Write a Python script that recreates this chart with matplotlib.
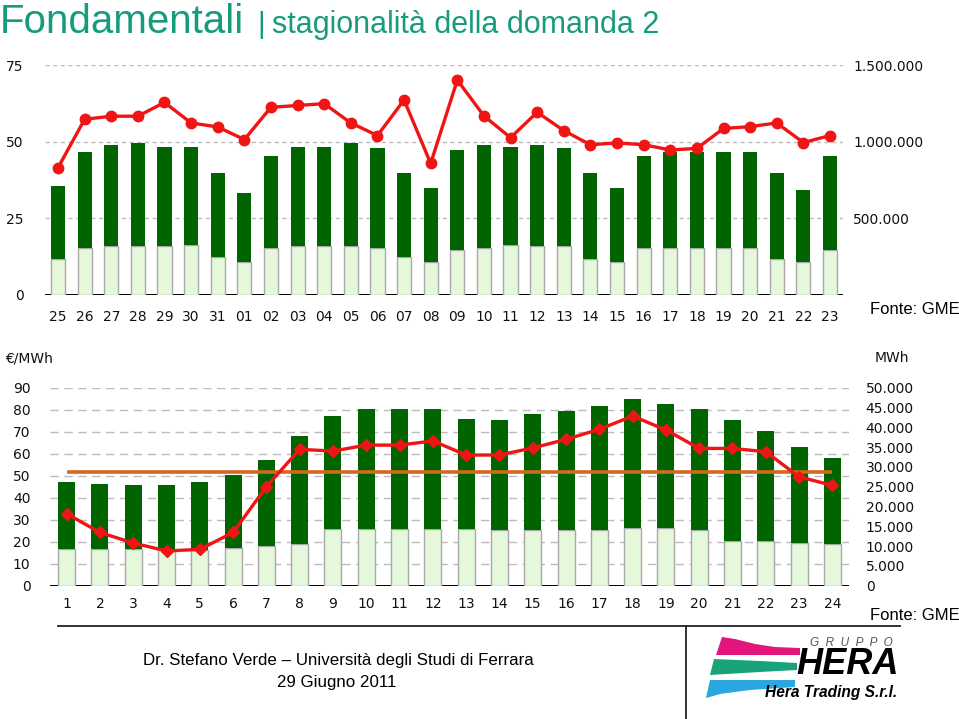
import matplotlib.pyplot as plt
from matplotlib.patches import Polygon
from matplotlib.ticker import FuncFormatter

# --- data: top chart (daily volume and price) ---
top_days = ['25', '26', '27', '28', '29', '30', '31', '01', '02', '03', '04', '05', '06', '07', '08',
            '09', '10', '11', '12', '13', '14', '15', '16', '17', '18', '19', '20', '21', '22', '23']
top_vol_total = [714000, 934000, 980000, 994000, 968000, 968000, 794000, 666000, 908000, 968000,
                 968000, 994000, 956000, 794000, 700000, 946000, 980000, 968000, 980000, 956000,
                 794000, 700000, 908000, 932000, 932000, 932000, 932000, 794000, 686000, 908000]
top_vol_light = [234000, 304000, 318000, 318000, 318000, 328000, 248000, 214000, 304000, 318000,
                 318000, 318000, 304000, 248000, 214000, 294000, 304000, 328000, 318000, 318000,
                 234000, 214000, 304000, 304000, 304000, 304000, 304000, 234000, 214000, 294000]
top_price = [41.5, 57.3, 58.3, 58.3, 62.8, 56.1, 54.8, 50.7, 61.2, 61.8, 62.4, 56.1, 52.0, 63.6, 42.9,
             70.1, 58.4, 51.3, 59.6, 53.6, 49.0, 49.6, 49.0, 47.3, 47.8, 54.3, 54.9, 56.1, 49.7, 52.0]

# --- data: bottom chart (hourly volume and price) ---
hours = [str(h) for h in range(1, 25)]
hour_vol_total = [26170, 25780, 25330, 25330, 26170, 27890, 31720, 37720, 42830, 44560, 44560, 44560,
                  42000, 41950, 43280, 44170, 45390, 47060, 45890, 44560, 41950, 39060, 35110, 32220]
hour_vol_light = [9170, 9170, 9170, 9000, 9000, 9610, 10000, 10440, 14220, 14220, 14220, 14220,
                  14220, 14170, 14170, 14170, 14170, 14670, 14670, 14170, 11280, 11280, 10830, 10440]
hour_price = [32.7, 24.2, 19.4, 15.8, 16.5, 24.2, 45.0, 62.0, 61.2, 63.9, 63.9, 65.8,
              59.4, 59.4, 62.6, 66.5, 71.1, 77.1, 70.8, 62.4, 62.4, 60.9, 49.5, 45.6]
avg_price = 51.8

DARK = '#006400'
LIGHT = '#e6f8dc'
RED = '#f01414'
ORANGE = '#d2691e'
TEAL = '#179b7d'

W, H = 959, 719
fig = plt.figure(figsize=(9.59, 7.19), dpi=100)
fig.patch.set_facecolor('white')


def px_axes(l, t, r, b):
    return fig.add_axes([l / W, 1 - b / H, (r - l) / W, (b - t) / H])


def px_text(x, y, s, **kw):
    fig.text(x / W, 1 - y / H, s, **kw)


def dots(v, pos):
    return f'{int(v):,}'.replace(',', '.')


def chart(rect, labels, vol_total, vol_light, price, pmax, pticks, vmax, vticks,
          width, dash, marker, ms, fs, lpad, rpad, xpad, vlabels_zero):
    n = len(labels)
    xs = list(range(n))
    ax_p = px_axes(*rect)
    ax_p.set_xlim(-0.5, n - 0.5)
    ax_p.set_ylim(0, pmax)
    ax_p.set_yticks(pticks)
    ax_p.set_xticks(xs)
    ax_p.set_xticklabels(labels)
    ax_p.yaxis.grid(True, linestyle=dash, color='#bcbcbc', lw=1)
    ax_p.axhline(0, color='black', lw=1.4, zorder=3)
    ax_p.tick_params(length=0, labelsize=fs, colors='#111111')
    ax_p.tick_params(axis='y', pad=lpad)
    ax_p.tick_params(axis='x', pad=xpad)

    ax_v = ax_p.twinx()
    ax_v.set_ylim(0, vmax)
    ax_v.set_yticks(vticks)
    ax_v.yaxis.set_major_formatter(FuncFormatter(
        lambda v, pos: '' if (v == 0 and not vlabels_zero) else dots(v, pos)))
    ax_v.tick_params(length=0, labelsize=fs, colors='#111111', pad=rpad)
    upper = [t - l for t, l in zip(vol_total, vol_light)]
    ax_v.bar(xs, vol_light, width=width, color=LIGHT, edgecolor='#a8a8a8', lw=1)
    ax_v.bar(xs, upper, width=width, bottom=vol_light, color=DARK, lw=0)

    ax_l = ax_p.twinx()
    ax_l.set_ylim(0, pmax)
    ax_l.set_yticks([])
    ax_l.plot(xs, price, color=RED, lw=2.4, marker=marker, ms=ms, mec=RED, mfc=RED)

    for a in (ax_p, ax_v, ax_l):
        for s in a.spines.values():
            s.set_visible(False)
    return ax_l


plt.rcParams['font.family'] = ['DejaVu Sans']

# top chart
chart((44.7, 65, 843.3, 295), top_days, top_vol_total, top_vol_light, top_price,
      75, [0, 25, 50, 75], 1500000, [0, 500000, 1000000, 1500000],
      0.53, (0, (3, 2.5)), 'o', 7.5, 10, 15, 7, 11, False)

# bottom chart
ax_b = chart((50, 387.7, 849, 585.7), hours, hour_vol_total, hour_vol_light, hour_price,
             90, list(range(0, 100, 10)), 50000, list(range(0, 55000, 5000)),
             0.51, (0, (6, 4)), 'D', 6, 10, 14, 12, 8, True)
ax_b.hlines(avg_price, 0, len(hours) - 1, color=ORANGE, lw=2.6, zorder=1)

px_text(5, 358, '€/MWh', fontsize=10, va='center', ha='left', color='#111111')
px_text(875, 358, 'MWh', fontsize=10, va='center', ha='left', color='#111111')

narrow = ['Liberation Sans Narrow', 'Liberation Sans', 'DejaVu Sans']
sans = ['Liberation Sans', 'DejaVu Sans']

# titles
px_text(0, 33, 'Fondamentali', fontsize=29, family=narrow, color=TEAL, va='baseline', ha='left')
px_text(257, 33, '|', fontsize=21, family=narrow, color=TEAL, va='baseline', ha='left')
px_text(272, 33, 'stagionalità della domanda 2', fontsize=22, family=narrow, color=TEAL,
        va='baseline', ha='left')

px_text(870, 310, 'Fonte: GME', fontsize=12, family=sans, va='center', ha='left')
px_text(870, 616, 'Fonte: GME', fontsize=12, family=sans, va='center', ha='left')

# footer
px_text(338, 661, 'Dr. Stefano Verde – Università degli Studi di Ferrara', fontsize=12.2,
        family=narrow, va='center', ha='center')
px_text(337, 683, '29 Giugno 2011', fontsize=12.2, family=narrow, va='center', ha='center')

ov = fig.add_axes([0, 0, 1, 1], zorder=10)
ov.set_xlim(0, W)
ov.set_ylim(H, 0)
ov.axis('off')
ov.patch.set_visible(False)
ov.plot([58, 900], [626, 626], color='#222222', lw=1.3)
ov.plot([686, 686], [626, 719], color='#222222', lw=1.3)

# logo swooshes
ov.add_patch(Polygon([(722, 637), (735, 639), (755, 644), (775, 647), (800, 648), (800, 655),
                      (716, 655)], closed=True, color='#e2167c', lw=0))
ov.add_patch(Polygon([(714, 659), (760, 661), (797, 663), (797, 670), (760, 672), (710, 675)],
                     closed=True, color='#1aa37a', lw=0))
ov.add_patch(Polygon([(710, 680), (795, 680), (795, 687), (750, 690), (720, 694), (706, 698)],
                     closed=True, color='#2ba6df', lw=0))
ov.text(851, 643, 'G  R  U  P  P  O', fontsize=8.5, family=sans, style='italic',
        color='#555555', ha='center', va='center')
ov.text(848, 665, 'HERA', fontsize=26, family=sans, style='italic', weight='bold', color='black',
        ha='center', va='center')
ov.text(831, 692, 'Hera Trading S.r.l.', fontsize=11.2, family=sans, style='italic', weight='bold',
        color='black', ha='center', va='center')

fig.savefig('out.png', dpi=100)
